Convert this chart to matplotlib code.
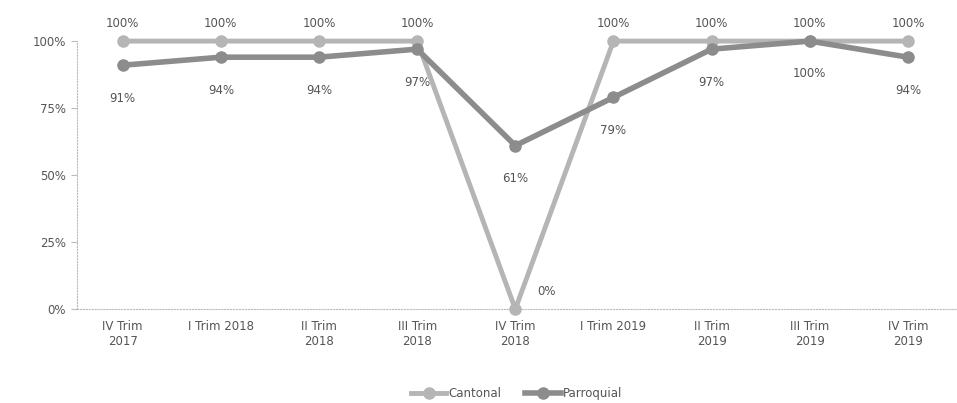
import matplotlib
matplotlib.use("Agg")
import matplotlib.pyplot as plt

categories = ["IV Trim\n2017", "I Trim 2018", "II Trim\n2018", "III Trim\n2018",
              "IV Trim\n2018", "I Trim 2019", "II Trim\n2019", "III Trim\n2019",
              "IV Trim\n2019"]
cantonal = [100, 100, 100, 100, 0, 100, 100, 100, 100]
parroquial = [91, 94, 94, 97, 61, 79, 97, 100, 94]
yticks = [0, 25, 50, 75, 100]

TEXT = "#555555"
C_CANT = "#b5b5b5"
C_PARR = "#8c8c8c"

fig = plt.figure(figsize=(9.57, 4.03), dpi=100)
ax = fig.add_axes([0.080, 0.233, 0.92, 0.665])
x = list(range(len(categories)))

ax.plot(x, cantonal, color=C_CANT, lw=3.5, marker="o", markersize=8,
        label="Cantonal", clip_on=False, zorder=3)
ax.plot(x, parroquial, color=C_PARR, lw=4, marker="o", markersize=8,
        label="Parroquial", clip_on=False, zorder=4)

for i, v in enumerate(cantonal):
    if v == 0:
        ax.annotate(f"{v}%", (i, v), xytext=(16, 8), textcoords="offset points",
                    ha="left", va="bottom", fontsize=8.5, color=TEXT)
    else:
        ax.annotate(f"{v}%", (i, v), xytext=(0, 8), textcoords="offset points",
                    ha="center", va="bottom", fontsize=8.5, color=TEXT)
for i, v in enumerate(parroquial):
    ax.annotate(f"{v}%", (i, v), xytext=(0, -19), textcoords="offset points",
                ha="center", va="top", fontsize=8.5, color=TEXT)

ax.set_xlim(-0.47, len(categories) - 0.5)
ax.set_ylim(0, 100)
ax.set_yticks(yticks)
ax.set_yticklabels([f"{t}%" for t in yticks])
ax.set_xticks(x)
ax.set_xticklabels(categories)
ax.tick_params(axis="both", colors=TEXT, labelsize=8.5, length=0)
ax.tick_params(axis="y", length=4, color="#bbbbbb")
ax.tick_params(axis="x", pad=8)
for s in ["top", "right"]:
    ax.spines[s].set_visible(False)
for s in ["left", "bottom"]:
    ax.spines[s].set_color("#bbbbbb")
    ax.spines[s].set_linestyle(":")

ax.legend(loc="upper center", bbox_to_anchor=(0.5, -0.25), ncol=2, frameon=False,
          fontsize=8.5, labelcolor=TEXT, handlelength=3, columnspacing=2,
          handletextpad=0.2)

fig.savefig("out.png", dpi=100)
